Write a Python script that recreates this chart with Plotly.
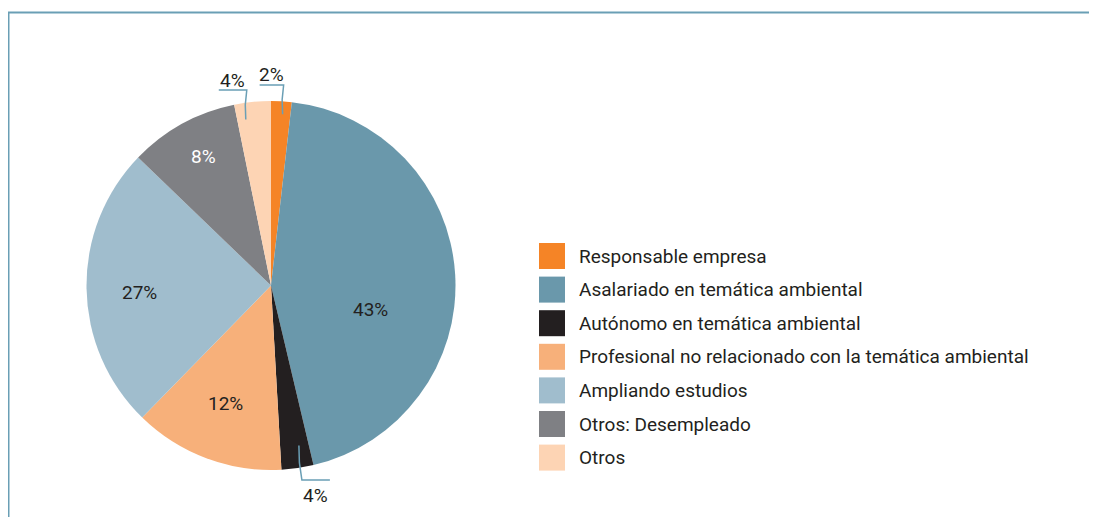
import math
import plotly.graph_objects as go

# ---- data ----
categories = [
    "Responsable empresa",
    "Asalariado en temática ambiental",
    "Autónomo en temática ambiental",
    "Profesional no relacionado con la temática ambiental",
    "Ampliando estudios",
    "Otros: Desempleado",
    "Otros",
]
shares = [1.8, 44.5, 2.8, 13.2, 24.9, 9.6, 3.2]          # slice sizes
printed = ["2%", "43%", "4%", "12%", "27%", "8%", "4%"]   # labels printed on the chart
colors = ["#F58426", "#6A98AB", "#231F20", "#F7B07A", "#A0BDCD", "#7F8084", "#FDD4B4"]
label_color = ["#231F20", "#231F20", "#231F20", "#231F20", "#231F20", "#FFFFFF", "#231F20"]
outside = [True, False, True, False, False, False, True]

# label placement: (position along slice, radius fraction)
inside_pos = {1: (0.608, 0.553), 3: (0.515, 0.684), 4: (0.477, 0.711), 5: (0.53, 0.79)}
# leader-line styling for the outside labels: (position along slice, radius fraction,
# elbow y in px, horizontal run in px)
leader = {
    0: (0.6, 0.93, 85, -24),
    2: (0.34, 0.88, 480, 28),
    6: (0.25, 0.91, 90, -28),
}

# The page body has an 8px margin; work in page pixels and shift.
OFF = 8
W, H = 1097 - OFF, 517 - OFF
FONT = "Roboto, Liberation Sans, sans-serif"
LINE = "#6A9FB5"
TXT = "#231F20"

def px(x):
    return (x - OFF) / W

def py(y):
    return 1 - (y - OFF) / H

# pie geometry (page pixels)
cx, cy, r = 271, 285.5, 184.5

fig = go.Figure()
fig.add_trace(go.Pie(
    labels=categories,
    values=shares,
    textinfo="none",
    marker=dict(colors=colors, line=dict(width=0)),
    sort=False,
    direction="clockwise",
    rotation=0,
    showlegend=False,
    hoverinfo="label+percent",
    domain=dict(x=[px(cx - r), px(cx + r)], y=[py(cy + r), py(cy - r)]),
))

shapes = []
annotations = []

# frame lines
shapes.append(dict(type="line", xref="paper", yref="paper", x0=px(7.5), x1=px(1100),
                   y0=py(12.5), y1=py(12.5), line=dict(color=LINE, width=2)))
shapes.append(dict(type="line", xref="paper", yref="paper", x0=px(8.5), x1=px(8.5),
                   y0=py(12), y1=py(520), line=dict(color=LINE, width=2)))

total = sum(shares)
cum = 0.0
for i, v in enumerate(shares):
    a0 = cum / total * 360
    cum += v
    a1 = cum / total * 360
    if not outside[i]:
        frac, rf = inside_pos[i]
        ang = math.radians(a0 + frac * (a1 - a0))
        tx = cx + rf * r * math.sin(ang)
        ty = cy - rf * r * math.cos(ang)
        annotations.append(dict(x=px(tx), y=py(ty), xref="paper", yref="paper",
                                text=printed[i], showarrow=False,
                                font=dict(family=FONT, size=19, color=label_color[i]),
                                xanchor="center", yanchor="middle"))
        continue
    frac, rf, ey, run = leader[i]
    ang = math.radians(a0 + frac * (a1 - a0))
    ax = cx + rf * r * math.sin(ang)
    ay = cy - rf * r * math.cos(ang)
    ex = ax + (1 if ey < cy else 3)
    pts = [(ax, ay), (ax + 0.5 * (ex - ax) - 1, (ay + ey) / 2), (ex, ey), (ex + run, ey)]
    path = "M " + " L ".join(f"{px(x):.5f},{py(y):.5f}" for x, y in pts)
    shapes.append(dict(type="path", xref="paper", yref="paper", path=path,
                       line=dict(color=LINE, width=1.5)))
    tx = ex + run / 2
    ty = ey - 10 if ey < cy else ey + 15
    annotations.append(dict(x=px(tx), y=py(ty), xref="paper", yref="paper",
                            text=printed[i], showarrow=False,
                            font=dict(family=FONT, size=19, color=label_color[i]),
                            xanchor="center", yanchor="middle"))

# legend (manual, big square swatches)
lx, ly0, step, sw = 539, 243, 33.6, 26
for i, (name, col) in enumerate(zip(categories, colors)):
    y = ly0 + i * step
    shapes.append(dict(type="rect", xref="paper", yref="paper",
                       x0=px(lx), x1=px(lx + sw), y0=py(y + sw), y1=py(y),
                       fillcolor=col, line=dict(width=0)))
    annotations.append(dict(x=px(lx + 38), y=py(y + sw / 2), xref="paper", yref="paper",
                            text=name, showarrow=False, xanchor="left", yanchor="middle",
                            font=dict(family=FONT, size=19, color=TXT)))

fig.update_layout(
    width=W, height=H, autosize=False,
    margin=dict(l=0, r=0, t=0, b=0),
    paper_bgcolor="white", plot_bgcolor="white",
    shapes=shapes, annotations=annotations,
    showlegend=False,
)

fig.write_html("out.html")
